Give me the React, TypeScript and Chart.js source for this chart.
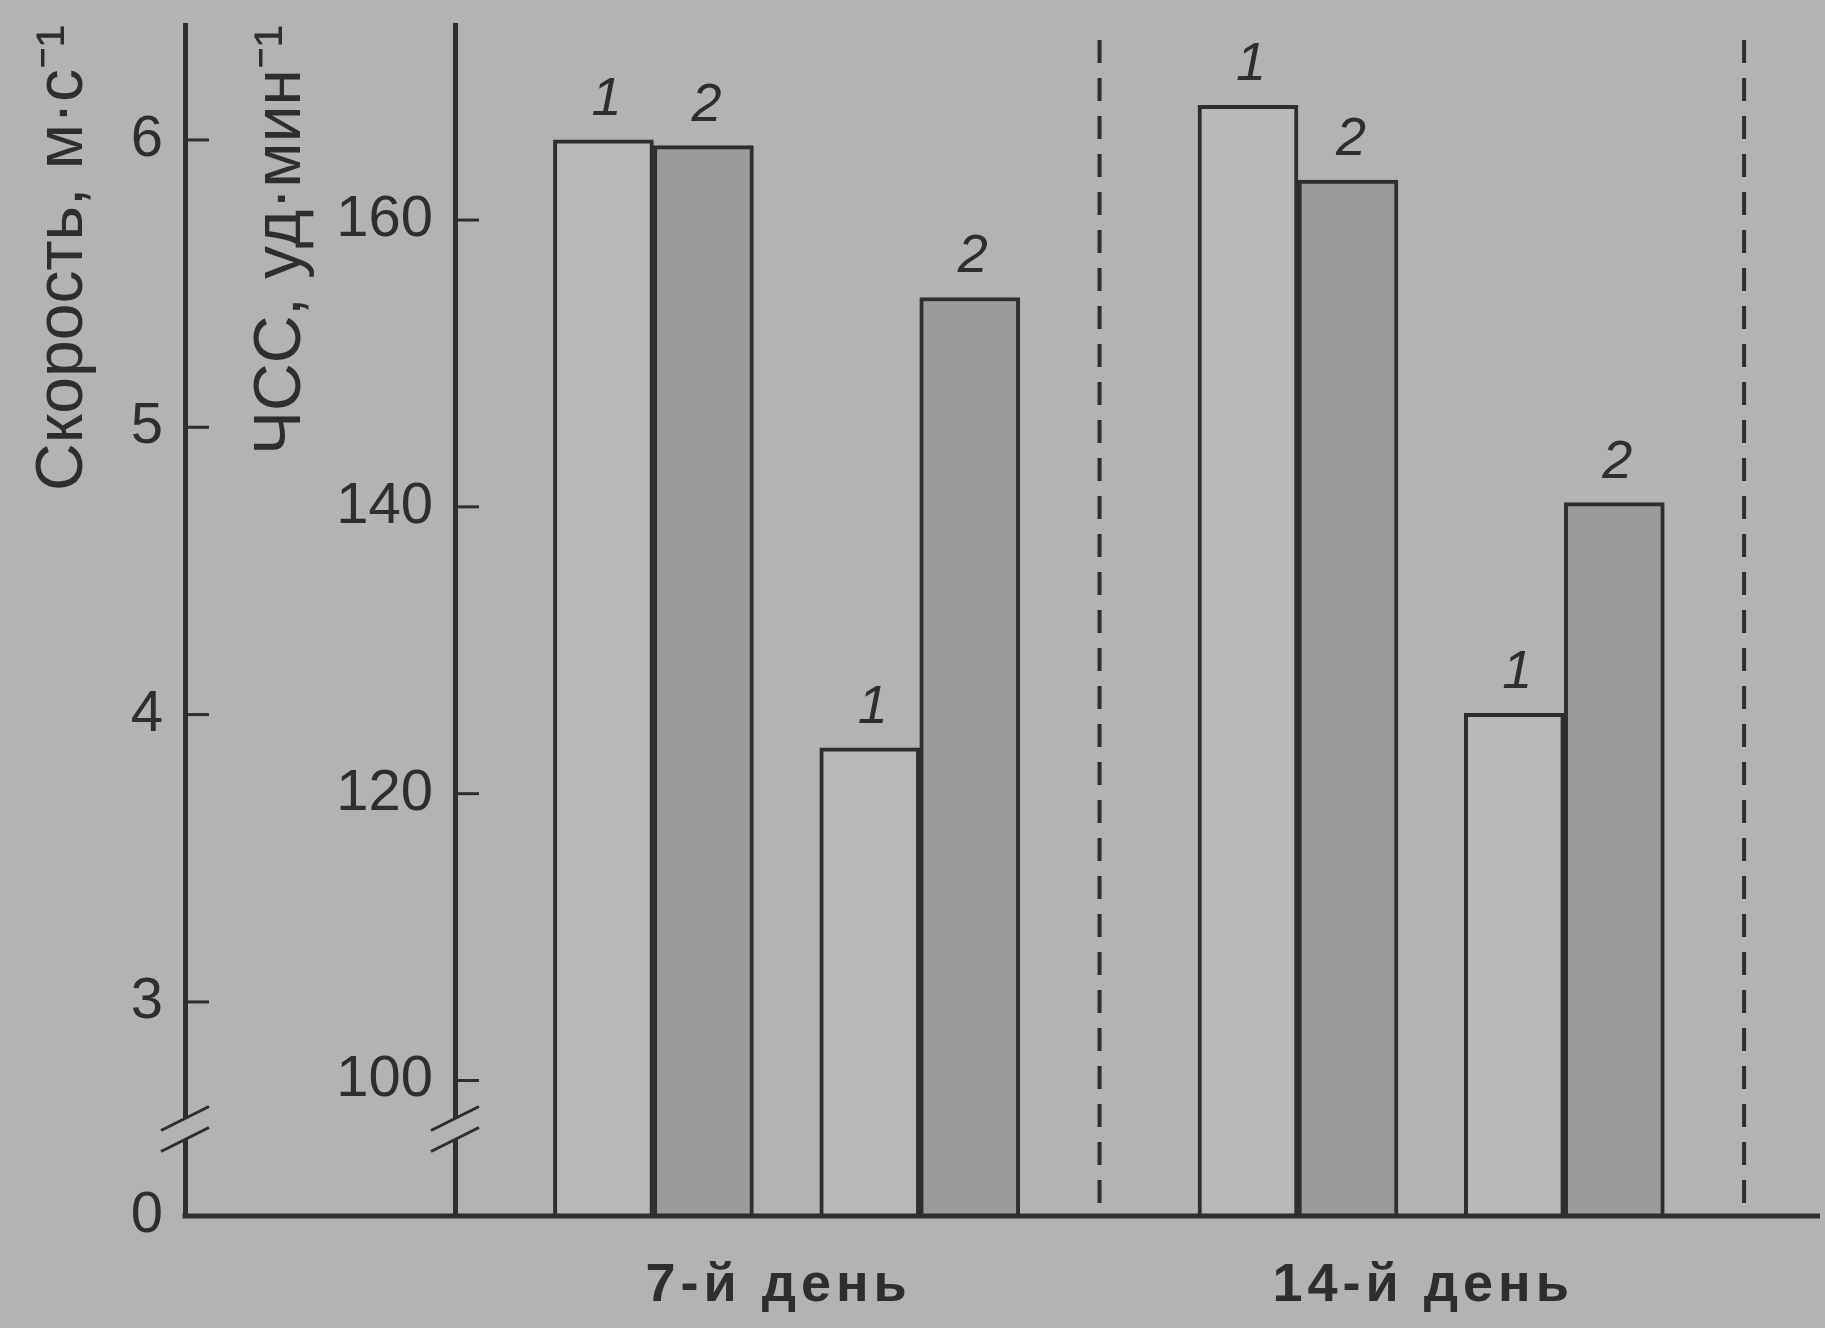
import React, { useEffect, useRef } from 'react';
import { Chart, registerables } from 'chart.js';

Chart.register(...registerables);

// ---------------- data ----------------
const days = ['7-й день', '14-й день'];
const seriesNames = ['1', '2'];
const speedSeries1 = [6.0, 6.12]; // м·с⁻¹, series 1 (light bars)
const speedSeries2 = [5.98, 5.86]; // м·с⁻¹, series 2 (dark bars)
const hrSeries1 = [123.2, 125.6]; // уд·мин⁻¹, series 1
const hrSeries2 = [154.6, 140.3]; // уд·мин⁻¹, series 2
const speedTicks = [3, 4, 5, 6];
const hrTicks = [100, 120, 140, 160];
const speedZeroLabel = '0';
const speedTitle = 'Скорость, м·с⁻¹';
const hrTitle = 'ЧСС, уд·мин⁻¹';

// ---------------- style ----------------
const FONT = "'Liberation Sans', Arial, Helvetica, sans-serif";
const BG = '#b3b3b3';
const INK = '#2e2e2e';
const LIGHT = '#b9b9b9';
const DARK = '#9b9b9b';
const DAY_GAP = 0.42;
const pairX = (day: number, measure: number) => day * (2 + DAY_GAP) + measure;

function points(values: number[], measure: number) {
  const out: { x: number; y: number | null }[] = [];
  days.forEach((_, d) => {
    [0, 1].forEach((m) => out.push({ x: pairX(d, m), y: m === measure ? values[d] : null }));
  });
  return out;
}

const barCommon = {
  borderColor: INK,
  borderSkipped: 'bottom' as const,
  barThickness: 100,
  skipNull: true,
  grouped: true,
};
const bw = { top: 4, left: 4, right: 4, bottom: 0 };

const datasets: any[] = [
  { ...barCommon, label: seriesNames[0], data: points(speedSeries1, 0), yAxisID: 'ySpeed', backgroundColor: LIGHT, borderWidth: bw },
  { ...barCommon, label: seriesNames[1], data: points(speedSeries2, 0), yAxisID: 'ySpeed', backgroundColor: DARK, borderWidth: bw },
  { ...barCommon, label: seriesNames[0], data: points(hrSeries1, 1), yAxisID: 'yHR', backgroundColor: LIGHT, borderWidth: bw },
  { ...barCommon, label: seriesNames[1], data: points(hrSeries2, 1), yAxisID: 'yHR', backgroundColor: DARK, borderWidth: bw },
];

const decorPlugin = {
  id: 'decor',
  beforeDraw(chart: any) {
    const { ctx, width, height } = chart;
    ctx.save();
    ctx.fillStyle = BG;
    ctx.fillRect(0, 0, width, height);
    ctx.restore();
  },
  afterDraw(chart: any) {
    const { ctx, chartArea, scales } = chart;
    const xs = scales.x;
    const ys = scales.ySpeed;
    const yh = scales.yHR;
    ctx.save();
    ctx.strokeStyle = INK;
    ctx.fillStyle = INK;

    // dashed day separators
    ctx.lineWidth = 4;
    ctx.setLineDash([23, 15]);
    days.forEach((_, d) => {
      const x = xs.getPixelForValue(pairX(d, 1) + 0.675);
      ctx.beginPath();
      ctx.moveTo(x, chartArea.top + 15);
      ctx.lineTo(x, chartArea.bottom);
      ctx.stroke();
    });
    ctx.setLineDash([]);

    // baseline
    ctx.lineWidth = 5;
    ctx.beginPath();
    ctx.moveTo(ys.right - 2.5, chartArea.bottom);
    ctx.lineTo(chartArea.right, chartArea.bottom);
    ctx.stroke();

    // inward tick marks
    ctx.lineWidth = 3;
    const ticks = (scale: any, vals: number[]) => {
      vals.forEach((v) => {
        const y = scale.getPixelForValue(v);
        ctx.beginPath();
        ctx.moveTo(scale.right, y);
        ctx.lineTo(scale.right + 24, y);
        ctx.stroke();
      });
    };
    ticks(ys, speedTicks);
    ticks(yh, hrTicks);

    // axis breaks
    [ys, yh].forEach((scale: any) => {
      const ax = scale.right;
      const by = chartArea.bottom - 87;
      ctx.fillStyle = BG;
      ctx.fillRect(ax - 6, by - 10, 12, 20);
      ctx.lineWidth = 3;
      [-10.5, 10.5].forEach((dy) => {
        ctx.beginPath();
        ctx.moveTo(ax - 24, by + dy + 12);
        ctx.lineTo(ax + 24, by + dy - 12);
        ctx.stroke();
      });
    });

    // series numbers above bars
    ctx.fillStyle = INK;
    ctx.font = `italic 54px ${FONT}`;
    ctx.textAlign = 'center';
    ctx.textBaseline = 'alphabetic';
    chart.data.datasets.forEach((ds: any, i: number) => {
      const meta = chart.getDatasetMeta(i);
      meta.data.forEach((el: any, j: number) => {
        const v = ds.data[j].y;
        if (v === null || v === undefined) return;
        ctx.fillText(ds.label, el.x + 3, el.y - 25);
      });
    });

    // day labels
    ctx.font = `bold 54px ${FONT}`;
    (ctx as any).letterSpacing = '5px';
    days.forEach((label, d) => {
      const x = xs.getPixelForValue((pairX(d, 0) + pairX(d, 1)) / 2) - 8;
      ctx.fillText(label, x, chartArea.bottom + 85);
    });
    (ctx as any).letterSpacing = '0px';
    ctx.restore();
  },
};

export default function App() {
  const ref = useRef<HTMLCanvasElement>(null);
  useEffect(() => {
    document.body.style.margin = '0';
    document.body.style.background = BG;
    const chart = new Chart(ref.current as HTMLCanvasElement, {
      type: 'bar',
      data: { datasets },
      options: {
        responsive: false,
        animation: false,
        devicePixelRatio: 1,
        layout: { padding: { top: 25, right: 5, bottom: 112, left: 0 } },
        plugins: { legend: { display: false }, tooltip: { enabled: false } },
        scales: {
          x: {
            type: 'linear',
            display: false,
            min: -0.745,
            max: 4.38,
            offset: false,
            grid: { display: false },
          },
          ySpeed: {
            type: 'linear',
            position: 'left',
            weight: 2,
            min: 2.255,
            max: 6.4,
            beginAtZero: false,
            afterBuildTicks: (s: any) => {
              s.ticks = [s.min, ...speedTicks].map((value) => ({ value }));
            },
            ticks: {
              callback: (v: any, i: number) => (i === 0 ? speedZeroLabel : String(v)),
              font: { family: FONT, size: 58 },
              color: INK,
              padding: 22,
              autoSkip: false,
            },
            grid: { display: false, drawTicks: false },
            border: { display: true, color: INK, width: 5 },
            title: {
              display: true,
              text: speedTitle,
              align: 'end',
              color: INK,
              font: { family: FONT, size: 66 },
              padding: { top: 24.4, bottom: 0 },
            },
            afterFit: (s: any) => {
              s.width = 185;
              s.paddingTop = 0;
              s.paddingBottom = 0;
            },
          },
          yHR: {
            type: 'linear',
            position: 'left',
            weight: 1,
            min: 90.55,
            max: 173.6,
            beginAtZero: false,
            afterBuildTicks: (s: any) => {
              s.ticks = hrTicks.map((value) => ({ value }));
            },
            ticks: {
              font: { family: FONT, size: 58 },
              color: INK,
              padding: 22,
              autoSkip: false,
            },
            grid: { display: false, drawTicks: false },
            border: { display: true, color: INK, width: 5 },
            title: {
              display: true,
              text: hrTitle,
              align: 'end',
              color: INK,
              font: { family: FONT, size: 66 },
              padding: { top: 57.4, bottom: 0 },
            },
            afterFit: (s: any) => {
              s.width = 270;
              s.paddingTop = 0;
              s.paddingBottom = 0;
            },
          },
        },
      } as any,
      plugins: [decorPlugin],
    });
    return () => chart.destroy();
  }, []);
  return (
    <div style={{ width: 1825, height: 1328, overflow: 'hidden', background: BG }}>
      <canvas ref={ref} width={1825} height={1328} style={{ display: 'block', width: 1825, height: 1328 }} />
    </div>
  );
}
